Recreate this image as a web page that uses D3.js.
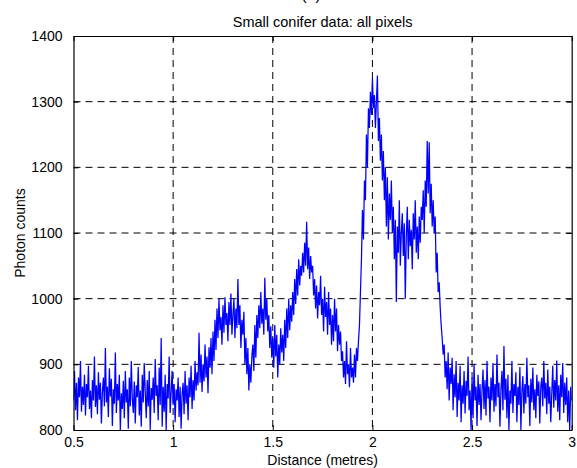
<!DOCTYPE html>
<html>
<head>
<meta charset="utf-8">
<script src="https://cdn.jsdelivr.net/npm/d3@7/dist/d3.min.js"></script>
<style>
  html, body { margin: 0; padding: 0; background: #fff; }
  svg { display: block; }
  text { font-family: "Liberation Sans", Arial, sans-serif; fill: #000; }
</style>
</head>
<body>
<svg id="chart" width="577" height="468"></svg>
<script>
// Photon counts sampled every 5 mm from 0.5 m to 3.0 m
const xStart = 0.5;
const xStep = 0.005;
const photonCounts = [
  845, 890, 830, 872, 815, 880, 850, 905, 828, 866,
  838, 884, 822, 870, 850, 898, 832, 860, 818, 876,
  845, 912, 835, 868, 824, 888, 846, 872, 810, 858,
  880, 836, 925, 842, 866, 820, 894, 851, 878, 806,
  862, 840, 918, 826, 870, 845, 884, 800, 856, 832,
  875, 818, 890, 842, 862, 802, 880, 836, 905, 848,
  826, 874, 810, 868, 850, 896, 822, 860, 805, 884,
  842, 902, 858, 818, 876, 836, 890, 800, 864, 846,
  880, 826, 908, 852, 868, 815, 895, 838, 940, 805,
  866, 828, 884, 800, 870, 848, 912, 826, 858, 890,
  838, 870, 812, 862, 845, 880, 820, 866, 802, 855,
  872, 824, 890, 840, 868, 815, 880, 850, 898, 832,
  876, 845, 905, 860, 888, 868, 948, 872, 915, 858,
  900, 874, 930, 880, 912, 856, 926, 895, 940, 885,
  950, 905, 968, 922, 985, 940, 1000, 952, 972, 930,
  990, 948, 1002, 960, 978, 935, 995, 960, 1008, 945,
  975, 1000, 940, 985, 955, 1030, 960, 990, 925, 968,
  945, 980, 900, 940, 885, 925, 860, 900, 872, 912,
  930, 890, 960, 910, 975, 940, 990, 955, 1010, 962,
  985, 945, 1032, 968, 1000, 950, 975, 925, 958, 910,
  940, 895, 960, 912, 945, 880, 930, 900, 955, 918,
  945, 905, 968, 925, 985, 940, 1000, 952, 990, 965,
  1010, 975, 1030, 992, 1045, 1005, 1060, 1020, 1050, 1035,
  1070, 1040, 1085, 1050, 1117, 1045, 1078, 1030, 1065, 1040,
  1050, 1005, 1030, 985, 1020, 970, 1010, 990, 1035, 975,
  1000, 950, 1018, 972, 995, 945, 1010, 960, 985, 930,
  975, 935, 1000, 950, 985, 920, 960, 930, 950, 905,
  920, 880, 905, 870, 935, 885, 900, 865, 925, 880,
  895, 872, 915, 880, 925, 905, 935, 960, 1010, 1060,
  1135, 1090, 1180, 1150, 1250, 1200, 1290, 1260, 1315, 1280,
  1335, 1290, 1310, 1260, 1300, 1340, 1240, 1275, 1210, 1250,
  1180, 1225, 1150, 1200, 1110, 1185, 1090, 1160, 1120, 1180,
  1100, 1140, 1060, 1120, 995, 1110, 1070, 1150, 1050, 1100,
  1130, 1065, 1115, 1000, 1095, 1140, 1060, 1120, 1080, 1105,
  1045, 1130, 1090, 1150, 1070, 1110, 1060, 1125, 1085, 1140,
  1120, 1165, 1100, 1180, 1140, 1240, 1160, 1238, 1130, 1175,
  1110, 1150, 1100, 1125, 1040, 1070, 1010, 1025, 987, 960,
  940, 915, 930, 880, 905, 862, 918, 845, 895, 870,
  910, 830, 885, 850, 905, 820, 872, 845, 898, 812,
  868, 840, 890, 825, 875, 852, 912, 830, 860, 800,
  880, 818, 900, 845, 866, 806, 884, 838, 870, 815,
  860, 892, 832, 876, 822, 905, 848, 866, 812, 880,
  845, 902, 828, 870, 836, 915, 850, 872, 805, 862,
  890, 830, 928, 846, 878, 818, 884, 800, 860, 840,
  905, 826, 870, 852, 888, 812, 866, 838, 896, 800,
  858, 882, 825, 870, 840, 910, 850, 868, 806, 878,
  842, 895, 830, 862, 818, 884, 852, 874, 810, 866,
  880, 836, 905, 848, 872, 824, 892, 840, 866, 812,
  856, 898, 834, 876, 845, 906, 828, 868, 815, 884,
  850, 902, 826, 872, 838, 880, 812, 860, 800, 866,
  845
];
const xTicks = [0.5, 1, 1.5, 2, 2.5, 3];
const xTickLabels = ["0.5", "1", "1.5", "2", "2.5", "3"];
const yTicks = [800, 900, 1000, 1100, 1200, 1300, 1400];
const yTickLabels = ["800", "900", "1000", "1100", "1200", "1300", "1400"];
const titleText = "Small conifer data: all pixels";
const panelText = "(a)";
const xLabelText = "Distance (metres)";
const yLabelText = "Photon counts";

const svg = d3.select("#chart");
const plot = { left: 73.5, top: 36, right: 571.7, bottom: 430 };
const fontSize = 14;
const tickLen = 5;

const x = d3.scaleLinear().domain([0.5, 3]).range([plot.left, plot.right]);
const y = d3.scaleLinear().domain([800, 1400]).range([plot.bottom, plot.top]);

svg.append("clipPath").attr("id", "plotClip")
  .append("rect")
  .attr("x", plot.left).attr("y", plot.top)
  .attr("width", plot.right - plot.left).attr("height", plot.bottom - plot.top);

// Dashed grid
const grid = svg.append("g").attr("stroke", "#000").attr("stroke-width", 1)
  .attr("stroke-dasharray", "7,5").attr("fill", "none");
xTicks.slice(1, -1).forEach(t => {
  grid.append("line").attr("x1", x(t)).attr("x2", x(t))
    .attr("y1", plot.top).attr("y2", plot.bottom);
});
yTicks.slice(1, -1).forEach(t => {
  grid.append("line").attr("x1", plot.left).attr("x2", plot.right)
    .attr("y1", y(t)).attr("y2", y(t));
});

// Photon count trace
const data = photonCounts.map((v, i) => ({ d: xStart + i * xStep, v }));
const line = d3.line().x(p => x(p.d)).y(p => y(p.v));
svg.append("path")
  .datum(data)
  .attr("clip-path", "url(#plotClip)")
  .attr("fill", "none")
  .attr("stroke", "#0000ff")
  .attr("stroke-width", 1.25)
  .attr("stroke-linejoin", "miter")
  .attr("d", line);

// Axes with inward ticks on all four sides
const axisB = d3.axisBottom(x).tickValues(xTicks).tickFormat((d, i) => xTickLabels[i])
  .tickSizeInner(-tickLen).tickSizeOuter(0).tickPadding(tickLen + 2);
const axisT = d3.axisTop(x).tickValues(xTicks).tickFormat("")
  .tickSizeInner(-tickLen).tickSizeOuter(0);
const axisL = d3.axisLeft(y).tickValues(yTicks).tickFormat((d, i) => yTickLabels[i])
  .tickSizeInner(-tickLen).tickSizeOuter(0).tickPadding(tickLen + 6);
const axisR = d3.axisRight(y).tickValues(yTicks).tickFormat("")
  .tickSizeInner(-tickLen).tickSizeOuter(0);

function styleAxis(g) {
  g.select(".domain").attr("stroke", "#000").attr("stroke-width", 1.2);
  g.selectAll(".tick line").attr("stroke", "#000").attr("stroke-width", 1);
  g.selectAll(".tick text").attr("font-size", fontSize)
    .attr("font-family", "Liberation Sans, Arial, sans-serif").attr("fill", "#000");
  g.attr("font-family", null).attr("font-size", null);
}

svg.append("g").attr("transform", `translate(0,${plot.bottom})`).call(axisB).call(styleAxis);
svg.append("g").attr("transform", `translate(0,${plot.top})`).call(axisT).call(styleAxis);
svg.append("g").attr("transform", `translate(${plot.left},0)`).call(axisL).call(styleAxis);
svg.append("g").attr("transform", `translate(${plot.right},0)`).call(axisR).call(styleAxis);

// Titles and labels
const cx = (plot.left + plot.right) / 2;
svg.append("text").attr("x", 311).attr("y", 0).attr("text-anchor", "middle")
  .attr("font-size", 16).text(panelText);
svg.append("text").attr("x", cx).attr("y", 27).attr("text-anchor", "middle")
  .attr("font-size", 14.5).text(titleText);
svg.append("text").attr("x", cx).attr("y", 465).attr("text-anchor", "middle")
  .attr("font-size", fontSize).text(xLabelText);
svg.append("text")
  .attr("transform", `translate(25,${(plot.top + plot.bottom) / 2}) rotate(-90)`)
  .attr("text-anchor", "middle").attr("font-size", fontSize).text(yLabelText);
</script>
</body>
</html>
